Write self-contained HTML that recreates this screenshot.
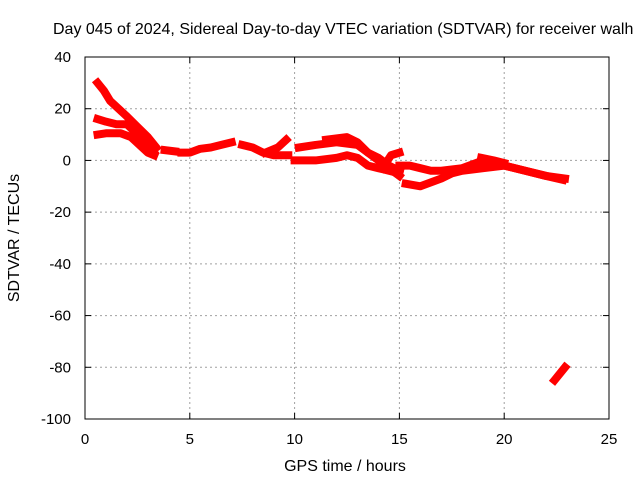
<!DOCTYPE html>
<html><head><meta charset="utf-8"><style>
body{margin:0;background:#fff;width:640px;height:480px;overflow:hidden}
svg text{font-family:"Liberation Sans",sans-serif;font-size:15px;fill:#000}
svg text.big{font-size:16px}
</style></head><body>
<svg id="c" width="640" height="480"></svg>
<script>
const xTicks=[0,5,10,15,20,25];
const yTicks=[40,20,0,-20,-40,-60,-80,-100];
const t1x=[0.6,0.9,1.2,1.6,2,2.5,3,3.4], t1y=[30,27,23,20,17,13,9,5];
const t2x=[0.6,1,1.5,2,2.5,3,3.3], t2y=[16,15,14,14,10,6,3];
const t3x=[0.6,1,1.7,2.2,2.6,3,3.3], t3y=[10,10.5,10.5,9,6,3,2];
const t4x=[3.8,4.3], t4y=[4,3.5];
const t5x=[4.6,5,5.5,6,6.5,7], t5y=[3,3,4.5,5,6,7];
const t6x=[7.5,8,8.5,9,9.7], t6y=[6,5,3,2,2];
const t7x=[8.6,9.2,9.6], t7y=[3,5,8];
const t8x=[10,11,12,12.5,13,13.5,14,14.5,15], t8y=[0,0,1,2,1,-2,-3,-4,-5];
const t9x=[10.2,11,12,13,13.5,14,14.5,15], t9y=[5,6,7,6,3,1,-2,-4];
const t10x=[11.5,12.5,13,13.5,14,14.5,15], t10y=[8,9,7,3,0,-3,-6];
const t11x=[14.2,14.6,15], t11y=[-3,2,3];
const t12x=[15,15.5,16,16.5,17,18,19,20,21,22,22.9], t12y=[-2,-2,-3,-4,-4,-3,0,-2,-4,-6,-7];
const t13x=[15.3,16,17,17.5,18,19,20,21,22,22.8], t13y=[-9,-10,-7,-5,-4,-3,-2,-4,-6,-7.5];
const t14x=[18.9,19.5,20], t14y=[1,0,-1];
const t15x=[22.4,22.9], t15y=[-85,-80];
const tracks=[[t1x,t1y],[t2x,t2y],[t3x,t3y],[t4x,t4y],[t5x,t5y],[t6x,t6y],[t7x,t7y],[t8x,t8y],[t9x,t9y],[t10x,t10y],[t11x,t11y],[t12x,t12y],[t13x,t13y],[t14x,t14y],[t15x,t15y]];
const L=85,R=609,T=57,B=419;
const sx=v=>L+(v-0)/25*(R-L);
const sy=v=>T+(40-v)/140*(B-T);
const svg=document.getElementById('c');
const NS='http://www.w3.org/2000/svg';
function mk(tag,attrs,txt){const e=document.createElementNS(NS,tag);for(const k in attrs)e.setAttribute(k,attrs[k]);if(txt!=null)e.textContent=txt;svg.appendChild(e);return e;}
xTicks.forEach(v=>{
  if(v>0&&v<25){const g=mk('line',{x1:sx(v),x2:sx(v),y1:T,y2:B,stroke:'#a0a0a0','stroke-dasharray':'2,3'});
  
  }
  const t=mk('text',{x:sx(v),y:B+25,'text-anchor':'middle'},String(v));
  
  
  mk('line',{x1:sx(v),x2:sx(v),y1:B,y2:B-6,stroke:'#000'});
  mk('line',{x1:sx(v),x2:sx(v),y1:T,y2:T+6,stroke:'#000'});
});
yTicks.forEach(v=>{
  if(v<40&&v>-100){const g=mk('line',{x1:L,x2:R,y1:sy(v),y2:sy(v),stroke:'#a0a0a0','stroke-dasharray':'2,3'});
  
  }
  const t=mk('text',{x:L-14,y:sy(v)+5,'text-anchor':'end'},String(v));
  
  
  mk('line',{x1:L,x2:L+6,y1:sy(v),y2:sy(v),stroke:'#000'});
  mk('line',{x1:R,x2:R-6,y1:sy(v),y2:sy(v),stroke:'#000'});
});
const fr=mk('rect',{x:L,y:T,width:R-L,height:B-T,fill:'none',stroke:'#000'});


tracks.forEach(([xs,ys])=>{
  const pts=xs.map((x,i)=>sx(x)+','+sy(ys[i])).join(' ');
  const p=mk('polyline',{points:pts,fill:'none',stroke:'#ff0000','stroke-width':8,'stroke-linejoin':'round','stroke-linecap':'square'});
  
  
});
const ti=mk('text',{x:53,y:34,'class':'big'},'Day 045 of 2024, Sidereal Day-to-day VTEC variation (SDTVAR) for receiver walh');


const xl=mk('text',{x:345,y:471,'text-anchor':'middle','class':'big'},'GPS time / hours');


const yl=mk('text',{x:19,y:238,'text-anchor':'middle','class':'big',transform:'rotate(-90 19 238)'},'SDTVAR / TECUs');


</script>
</body></html>
